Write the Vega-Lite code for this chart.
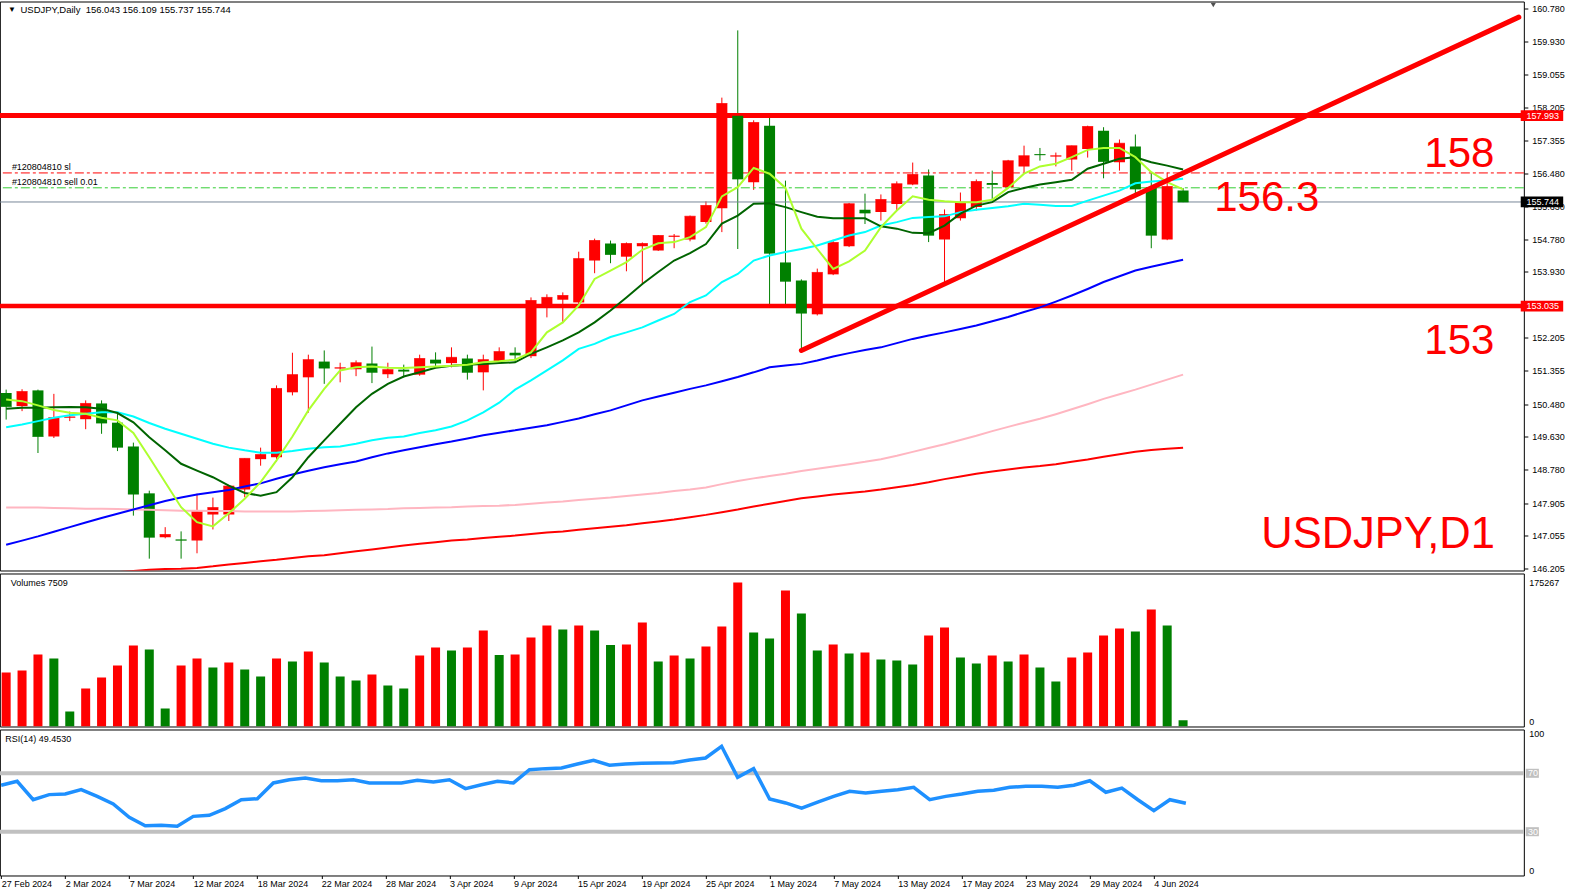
{
"$schema": "https://vega.github.io/schema/vega-lite/v6.json",
"background": "white",
"padding": {"left": -3.17, "top": 0.5, "right": 2, "bottom": 2},
"bounds": "flush",
"spacing": 3,
"config": {
 "view": {"stroke": "#000000", "strokeWidth": 1},
 "font": "Liberation Sans",
 "axis": {"labelFont": "Liberation Sans", "labelFontSize": 9, "labelColor": "#000000", "tickColor": "#000000", "domain": false, "grid": false, "tickSize": 4, "labelPadding": 3, "labelOverlap": false, "labelFlush": false, "labelBound": false}
},
"data": {"values": [
{"i":0,"o":150.77,"h":150.86,"l":150.08,"c":150.42,"v":65723,"r":61.8,"m1":150.60,"m2":150.36,"m3":149.88,"m4":146.82,"m5":147.79,"m6":146.00},
{"i":1,"o":150.43,"h":150.87,"l":150.30,"c":150.81,"v":68158,"r":64.5,"m1":150.56,"m2":150.39,"m3":149.95,"m4":146.93,"m5":147.79,"m6":146.02},
{"i":2,"o":150.84,"h":150.86,"l":149.21,"c":149.64,"v":87631,"r":51.9,"m1":150.45,"m2":150.39,"m3":150.04,"m4":147.04,"m5":147.79,"m6":146.03},
{"i":3,"o":149.64,"h":150.75,"l":149.60,"c":150.13,"v":82763,"r":55.4,"m1":150.33,"m2":150.40,"m3":150.13,"m4":147.16,"m5":147.78,"m6":146.04},
{"i":4,"o":150.13,"h":150.29,"l":150.04,"c":150.15,"v":18257,"r":55.8,"m1":150.26,"m2":150.41,"m3":150.19,"m4":147.28,"m5":147.77,"m6":146.05},
{"i":5,"o":150.09,"h":150.58,"l":149.83,"c":150.50,"v":46250,"r":58.8,"m1":150.23,"m2":150.40,"m3":150.23,"m4":147.40,"m5":147.76,"m6":146.06},
{"i":6,"o":150.50,"h":150.58,"l":149.71,"c":149.99,"v":59638,"r":54.2,"m1":150.13,"m2":150.36,"m3":150.27,"m4":147.52,"m5":147.76,"m6":146.08},
{"i":7,"o":150.00,"h":150.23,"l":149.26,"c":149.36,"v":74243,"r":49.0,"m1":150.06,"m2":150.25,"m3":150.27,"m4":147.63,"m5":147.75,"m6":146.11},
{"i":8,"o":149.38,"h":149.48,"l":147.58,"c":148.14,"v":98585,"r":39.8,"m1":149.73,"m2":150.01,"m3":150.16,"m4":147.74,"m5":147.74,"m6":146.14},
{"i":9,"o":148.16,"h":148.23,"l":146.46,"c":147.02,"v":93717,"r":34.1,"m1":149.10,"m2":149.62,"m3":149.99,"m4":147.85,"m5":147.73,"m6":146.17},
{"i":10,"o":147.02,"h":147.28,"l":146.99,"c":147.09,"v":21908,"r":34.4,"m1":148.45,"m2":149.28,"m3":149.84,"m4":147.96,"m5":147.72,"m6":146.19},
{"i":11,"o":146.96,"h":147.17,"l":146.46,"c":146.94,"v":74243,"r":33.7,"m1":147.80,"m2":148.93,"m3":149.71,"m4":148.05,"m5":147.71,"m6":146.20},
{"i":12,"o":146.93,"h":148.15,"l":146.60,"c":147.69,"v":82763,"r":40.5,"m1":147.41,"m2":148.75,"m3":149.58,"m4":148.13,"m5":147.71,"m6":146.22},
{"i":13,"o":147.61,"h":148.05,"l":147.22,"c":147.79,"v":71809,"r":41.2,"m1":147.30,"m2":148.58,"m3":149.45,"m4":148.19,"m5":147.70,"m6":146.26},
{"i":14,"o":147.61,"h":148.38,"l":147.44,"c":148.35,"v":77894,"r":45.8,"m1":147.64,"m2":148.36,"m3":149.35,"m4":148.25,"m5":147.70,"m6":146.31},
{"i":15,"o":148.26,"h":149.07,"l":148.06,"c":149.07,"v":69375,"r":51.9,"m1":148.02,"m2":148.17,"m3":149.28,"m4":148.34,"m5":147.69,"m6":146.35},
{"i":16,"o":149.05,"h":149.35,"l":148.88,"c":149.17,"v":60855,"r":52.6,"m1":148.45,"m2":148.10,"m3":149.22,"m4":148.42,"m5":147.69,"m6":146.39},
{"i":17,"o":149.10,"h":150.97,"l":148.99,"c":150.89,"v":82763,"r":63.4,"m1":149.02,"m2":148.19,"m3":149.22,"m4":148.54,"m5":147.69,"m6":146.43},
{"i":18,"o":150.79,"h":151.82,"l":150.71,"c":151.25,"v":79112,"r":65.6,"m1":149.64,"m2":148.58,"m3":149.26,"m4":148.65,"m5":147.69,"m6":146.48},
{"i":19,"o":151.18,"h":151.77,"l":150.26,"c":151.64,"v":91283,"r":66.8,"m1":150.32,"m2":149.10,"m3":149.32,"m4":148.75,"m5":147.70,"m6":146.52},
{"i":20,"o":151.59,"h":151.88,"l":151.01,"c":151.42,"v":77894,"r":64.9,"m1":150.88,"m2":149.54,"m3":149.36,"m4":148.84,"m5":147.71,"m6":146.55},
{"i":21,"o":151.41,"h":151.56,"l":151.05,"c":151.43,"v":60855,"r":64.9,"m1":151.36,"m2":149.97,"m3":149.38,"m4":148.92,"m5":147.72,"m6":146.60},
{"i":22,"o":151.39,"h":151.62,"l":151.21,"c":151.56,"v":55987,"r":65.6,"m1":151.44,"m2":150.40,"m3":149.45,"m4":148.99,"m5":147.73,"m6":146.65},
{"i":23,"o":151.54,"h":151.98,"l":151.03,"c":151.31,"v":63289,"r":63.4,"m1":151.46,"m2":150.75,"m3":149.54,"m4":149.10,"m5":147.74,"m6":146.70},
{"i":24,"o":151.26,"h":151.56,"l":151.16,"c":151.38,"v":49901,"r":63.4,"m1":151.43,"m2":151.01,"m3":149.61,"m4":149.20,"m5":147.75,"m6":146.75},
{"i":25,"o":151.38,"h":151.51,"l":151.18,"c":151.34,"v":46250,"r":63.4,"m1":151.42,"m2":151.20,"m3":149.64,"m4":149.28,"m5":147.77,"m6":146.80},
{"i":26,"o":151.25,"h":151.77,"l":151.22,"c":151.67,"v":86414,"r":65.2,"m1":151.44,"m2":151.31,"m3":149.73,"m4":149.36,"m5":147.78,"m6":146.85},
{"i":27,"o":151.64,"h":151.83,"l":151.46,"c":151.55,"v":96151,"r":64.0,"m1":151.46,"m2":151.43,"m3":149.80,"m4":149.44,"m5":147.79,"m6":146.89},
{"i":28,"o":151.55,"h":151.96,"l":151.44,"c":151.70,"v":92500,"r":65.6,"m1":151.48,"m2":151.48,"m3":149.90,"m4":149.51,"m5":147.80,"m6":146.93},
{"i":29,"o":151.67,"h":151.77,"l":151.12,"c":151.31,"v":96151,"r":59.5,"m1":151.51,"m2":151.51,"m3":150.06,"m4":149.59,"m5":147.82,"m6":146.96},
{"i":30,"o":151.31,"h":151.77,"l":150.84,"c":151.64,"v":116842,"r":62.2,"m1":151.57,"m2":151.53,"m3":150.27,"m4":149.67,"m5":147.83,"m6":147.00},
{"i":31,"o":151.60,"h":151.96,"l":151.60,"c":151.85,"v":87023,"r":64.5,"m1":151.60,"m2":151.55,"m3":150.52,"m4":149.74,"m5":147.84,"m6":147.03},
{"i":32,"o":151.82,"h":151.96,"l":151.60,"c":151.76,"v":87631,"r":63.4,"m1":151.64,"m2":151.57,"m3":150.86,"m4":149.80,"m5":147.86,"m6":147.06},
{"i":33,"o":151.73,"h":153.26,"l":151.68,"c":153.18,"v":108322,"r":72.5,"m1":151.83,"m2":151.79,"m3":151.10,"m4":149.87,"m5":147.89,"m6":147.10},
{"i":34,"o":153.08,"h":153.34,"l":152.74,"c":153.26,"v":122927,"r":73.2,"m1":152.35,"m2":151.96,"m3":151.36,"m4":149.93,"m5":147.92,"m6":147.14},
{"i":35,"o":153.20,"h":153.39,"l":152.59,"c":153.31,"v":118059,"r":73.6,"m1":152.61,"m2":152.14,"m3":151.62,"m4":150.02,"m5":147.95,"m6":147.17},
{"i":36,"o":153.13,"h":154.45,"l":153.09,"c":154.27,"v":122927,"r":76.4,"m1":153.05,"m2":152.35,"m3":151.92,"m4":150.11,"m5":147.99,"m6":147.21},
{"i":37,"o":154.22,"h":154.79,"l":153.89,"c":154.74,"v":116842,"r":78.9,"m1":153.74,"m2":152.61,"m3":152.05,"m4":150.22,"m5":148.02,"m6":147.25},
{"i":38,"o":154.66,"h":154.74,"l":154.15,"c":154.38,"v":99194,"r":75.5,"m1":153.96,"m2":152.92,"m3":152.23,"m4":150.32,"m5":148.05,"m6":147.29},
{"i":39,"o":154.32,"h":154.69,"l":153.94,"c":154.66,"v":99802,"r":76.4,"m1":154.18,"m2":153.26,"m3":152.35,"m4":150.45,"m5":148.09,"m6":147.33},
{"i":40,"o":154.59,"h":154.69,"l":153.60,"c":154.66,"v":126578,"r":76.8,"m1":154.50,"m2":153.61,"m3":152.48,"m4":150.58,"m5":148.13,"m6":147.38},
{"i":41,"o":154.48,"h":154.88,"l":154.47,"c":154.87,"v":79112,"r":77.1,"m1":154.67,"m2":153.92,"m3":152.66,"m4":150.68,"m5":148.17,"m6":147.43},
{"i":42,"o":154.84,"h":154.91,"l":154.54,"c":154.86,"v":86414,"r":77.3,"m1":154.70,"m2":154.22,"m3":152.83,"m4":150.78,"m5":148.22,"m6":147.48},
{"i":43,"o":154.77,"h":155.39,"l":154.72,"c":155.37,"v":82763,"r":79.1,"m1":154.83,"m2":154.41,"m3":153.14,"m4":150.88,"m5":148.26,"m6":147.54},
{"i":44,"o":155.22,"h":155.76,"l":155.18,"c":155.65,"v":97368,"r":80.5,"m1":155.09,"m2":154.65,"m3":153.31,"m4":150.97,"m5":148.31,"m6":147.60},
{"i":45,"o":155.58,"h":158.46,"l":154.96,"c":158.31,"v":121710,"r":88.5,"m1":155.89,"m2":155.18,"m3":153.66,"m4":151.08,"m5":148.40,"m6":147.67},
{"i":46,"o":157.99,"h":160.21,"l":154.52,"c":156.34,"v":175267,"r":67.2,"m1":156.13,"m2":155.39,"m3":153.87,"m4":151.19,"m5":148.48,"m6":147.74},
{"i":47,"o":156.26,"h":157.87,"l":156.06,"c":157.81,"v":114407,"r":73.2,"m1":156.63,"m2":155.70,"m3":154.22,"m4":151.31,"m5":148.55,"m6":147.82},
{"i":48,"o":157.73,"h":157.99,"l":153.00,"c":154.41,"v":107105,"r":52.4,"m1":156.48,"m2":155.71,"m3":154.35,"m4":151.44,"m5":148.61,"m6":147.89},
{"i":49,"o":154.17,"h":156.30,"l":153.06,"c":153.68,"v":165526,"r":49.7,"m1":156.11,"m2":155.61,"m3":154.44,"m4":151.49,"m5":148.67,"m6":147.96},
{"i":50,"o":153.70,"h":153.73,"l":151.88,"c":152.85,"v":137532,"r":46.2,"m1":155.05,"m2":155.48,"m3":154.52,"m4":151.53,"m5":148.74,"m6":148.03},
{"i":51,"o":152.82,"h":154.01,"l":152.79,"c":153.91,"v":92500,"r":50.3,"m1":154.52,"m2":155.36,"m3":154.61,"m4":151.62,"m5":148.80,"m6":148.08},
{"i":52,"o":153.86,"h":154.76,"l":153.84,"c":154.69,"v":99802,"r":54.2,"m1":154.00,"m2":155.32,"m3":154.74,"m4":151.72,"m5":148.86,"m6":148.13},
{"i":53,"o":154.59,"h":155.72,"l":154.57,"c":155.70,"v":88848,"r":57.7,"m1":154.20,"m2":155.32,"m3":154.87,"m4":151.81,"m5":148.92,"m6":148.17},
{"i":54,"o":155.54,"h":155.96,"l":155.17,"c":155.46,"v":90065,"r":56.5,"m1":154.48,"m2":155.32,"m3":154.96,"m4":151.89,"m5":148.98,"m6":148.21},
{"i":55,"o":155.48,"h":155.94,"l":155.26,"c":155.81,"v":81546,"r":57.7,"m1":155.09,"m2":155.11,"m3":155.13,"m4":151.96,"m5":149.05,"m6":148.26},
{"i":56,"o":155.69,"h":156.28,"l":155.52,"c":156.22,"v":80329,"r":58.8,"m1":155.52,"m2":155.05,"m3":155.22,"m4":152.07,"m5":149.14,"m6":148.32},
{"i":57,"o":156.20,"h":156.77,"l":156.18,"c":156.46,"v":75460,"r":60.4,"m1":155.89,"m2":154.94,"m3":155.33,"m4":152.18,"m5":149.24,"m6":148.38},
{"i":58,"o":156.43,"h":156.59,"l":154.70,"c":154.88,"v":110756,"r":51.9,"m1":155.80,"m2":154.93,"m3":155.35,"m4":152.27,"m5":149.34,"m6":148.45},
{"i":59,"o":154.77,"h":155.55,"l":153.66,"c":155.42,"v":120493,"r":54.2,"m1":155.76,"m2":155.13,"m3":155.37,"m4":152.35,"m5":149.44,"m6":148.53},
{"i":60,"o":155.32,"h":155.99,"l":155.26,"c":155.73,"v":83980,"r":55.8,"m1":155.74,"m2":155.44,"m3":155.48,"m4":152.44,"m5":149.55,"m6":148.60},
{"i":61,"o":155.61,"h":156.33,"l":155.52,"c":156.28,"v":76677,"r":57.7,"m1":155.74,"m2":155.65,"m3":155.54,"m4":152.53,"m5":149.66,"m6":148.67},
{"i":62,"o":156.24,"h":156.56,"l":155.78,"c":156.20,"v":86414,"r":58.4,"m1":155.80,"m2":155.74,"m3":155.59,"m4":152.64,"m5":149.78,"m6":148.73},
{"i":63,"o":156.13,"h":156.84,"l":156.10,"c":156.82,"v":79112,"r":60.4,"m1":156.11,"m2":156.00,"m3":155.63,"m4":152.75,"m5":149.89,"m6":148.78},
{"i":64,"o":156.67,"h":157.21,"l":156.52,"c":156.95,"v":87631,"r":61.1,"m1":156.48,"m2":156.11,"m3":155.70,"m4":152.88,"m5":150.00,"m6":148.83},
{"i":65,"o":156.99,"h":157.15,"l":156.82,"c":156.97,"v":71809,"r":61.1,"m1":156.67,"m2":156.20,"m3":155.67,"m4":153.00,"m5":150.10,"m6":148.87},
{"i":66,"o":156.93,"h":157.03,"l":156.67,"c":156.95,"v":54770,"r":60.4,"m1":156.74,"m2":156.26,"m3":155.64,"m4":153.15,"m5":150.22,"m6":148.92},
{"i":67,"o":156.85,"h":157.21,"l":156.56,"c":157.21,"v":83980,"r":61.8,"m1":156.91,"m2":156.32,"m3":155.64,"m4":153.31,"m5":150.35,"m6":148.98},
{"i":68,"o":157.12,"h":157.73,"l":156.90,"c":157.71,"v":90065,"r":64.9,"m1":157.10,"m2":156.61,"m3":155.78,"m4":153.48,"m5":150.48,"m6":149.04},
{"i":69,"o":157.60,"h":157.69,"l":156.36,"c":156.80,"v":110756,"r":57.0,"m1":157.15,"m2":156.74,"m3":155.91,"m4":153.66,"m5":150.62,"m6":149.11},
{"i":70,"o":156.78,"h":157.37,"l":156.56,"c":157.27,"v":119276,"r":59.9,"m1":157.15,"m2":156.87,"m3":156.04,"m4":153.81,"m5":150.74,"m6":149.18},
{"i":71,"o":157.19,"h":157.50,"l":155.96,"c":156.08,"v":115625,"r":51.9,"m1":156.91,"m2":156.91,"m3":156.23,"m4":153.96,"m5":150.86,"m6":149.24},
{"i":72,"o":156.13,"h":156.51,"l":154.54,"c":154.88,"v":142401,"r":44.4,"m1":156.52,"m2":156.78,"m3":156.28,"m4":154.06,"m5":150.99,"m6":149.29},
{"i":73,"o":154.77,"h":156.51,"l":154.75,"c":156.15,"v":122927,"r":51.9,"m1":156.26,"m2":156.69,"m3":156.30,"m4":154.15,"m5":151.12,"m6":149.32},
{"i":74,"o":156.043,"h":156.109,"l":155.737,"c":155.744,"v":7509,"r":49.453,"m1":156.07,"m2":156.59,"m3":156.35,"m4":154.24,"m5":151.25,"m6":149.35}
]},
"vconcat": [
{
 "width": 1524, "height": 569,
 "layer": [
  {"mark": {"type": "rule", "strokeWidth": 1, "clip": true},
   "encoding": {
    "x": {"field": "i", "type": "quantitative", "scale": {"domain": [-0.083, 95.11], "nice": false, "zero": false}, "axis": null},
    "y": {"field": "h", "type": "quantitative", "scale": {"domain": [146.152, 160.962], "nice": false, "zero": false},
          "axis": {"orient": "right", "title": null, "format": ".3f", "labelOverlap": false, "labelBound": false, "labelPadding": 4, "tickCount": 100,
                   "values": [146.205, 147.055, 147.905, 148.78, 149.63, 150.48, 151.355, 152.205, 153.93, 154.78, 155.63, 156.48, 157.355, 158.205, 159.055, 159.93, 160.78]}},
    "y2": {"field": "l"},
    "color": {"condition": {"test": "datum.c >= datum.o", "value": "#FF0000"}, "value": "#008000"}}},
  {"data": {"values": [{}]}, "mark": {"type": "rule", "strokeWidth": 5, "color": "#FF0000"},
   "encoding": {"y": {"datum": 157.993, "type": "quantitative"}}},
  {"data": {"values": [{}]}, "mark": {"type": "rule", "strokeWidth": 4.5, "color": "#FF0000"},
   "encoding": {"y": {"datum": 153.035, "type": "quantitative"}}},
  {"data": {"values": [{}]}, "mark": {"type": "rule", "strokeWidth": 1, "color": "#FF0000", "strokeDash": [9, 3, 3, 3]},
   "encoding": {"y": {"datum": 156.50, "type": "quantitative"}}},
  {"data": {"values": [{}]}, "mark": {"type": "rule", "strokeWidth": 1, "color": "#32CD32", "strokeDash": [9, 3, 3, 3]},
   "encoding": {"y": {"datum": 156.113, "type": "quantitative"}}},
  {"data": {"values": [{}]}, "mark": {"type": "rule", "strokeWidth": 1, "color": "#778899"},
   "encoding": {"y": {"datum": 155.744, "type": "quantitative"}}},
  {"mark": {"type": "bar", "size": 11, "clip": true},
   "encoding": {
    "x": {"field": "i", "type": "quantitative", "axis": null},
    "y": {"field": "o", "type": "quantitative"},
    "y2": {"field": "c"},
    "color": {"condition": {"test": "datum.c >= datum.o", "value": "#FF0000"}, "value": "#008000"}}},
  {"mark": {"type": "tick", "orient": "horizontal", "size": 11, "thickness": 1, "clip": true},
   "encoding": {
    "x": {"field": "i", "type": "quantitative", "axis": null},
    "y": {"field": "c", "type": "quantitative"},
    "color": {"condition": {"test": "datum.c >= datum.o", "value": "#FF0000"}, "value": "#008000"}}},
  {"transform": [{"fold": ["m6", "m5", "m4", "m3", "m2", "m1"], "as": ["ma", "val"]}],
   "mark": {"type": "line", "strokeWidth": 2, "clip": true},
   "encoding": {
    "x": {"field": "i", "type": "quantitative", "axis": null},
    "y": {"field": "val", "type": "quantitative"},
    "color": {"field": "ma", "type": "nominal", "legend": null,
      "scale": {"domain": ["m6", "m5", "m4", "m3", "m2", "m1"], "range": ["#FF0000", "#FFB6C1", "#0000FF", "#00FFFF", "#006400", "#ADFF2F"]}}}},
  {"data": {"values": [{}]}, "mark": {"type": "rule", "strokeWidth": 5, "color": "#FF0000", "clip": true, "strokeCap": "round"},
   "encoding": {
    "x": {"datum": 50, "type": "quantitative", "axis": null}, "x2": {"datum": 95.11},
    "y": {"datum": 151.88, "type": "quantitative"}, "y2": {"datum": 160.555}}},
  {"data": {"values": [{}]}, "mark": {"type": "text", "text": "158", "fontSize": 42, "color": "#FF0000", "align": "center", "baseline": "middle", "font": "Liberation Sans"},
   "encoding": {"x": {"datum": 91.37, "type": "quantitative", "axis": null}, "y": {"datum": 156.985, "type": "quantitative"}}},
  {"data": {"values": [{}]}, "mark": {"type": "text", "text": "156.3", "fontSize": 42, "color": "#FF0000", "align": "center", "baseline": "middle", "font": "Liberation Sans"},
   "encoding": {"x": {"datum": 79.26, "type": "quantitative", "axis": null}, "y": {"datum": 155.85, "type": "quantitative"}}},
  {"data": {"values": [{}]}, "mark": {"type": "text", "text": "153", "fontSize": 42, "color": "#FF0000", "align": "center", "baseline": "middle", "font": "Liberation Sans"},
   "encoding": {"x": {"datum": 91.37, "type": "quantitative", "axis": null}, "y": {"datum": 152.125, "type": "quantitative"}}},
  {"data": {"values": [{}]}, "mark": {"type": "text", "text": "USDJPY,D1", "fontSize": 43.5, "color": "#FF0000", "align": "center", "baseline": "middle", "font": "Liberation Sans"},
   "encoding": {"x": {"datum": 86.26, "type": "quantitative", "axis": null}, "y": {"datum": 147.07, "type": "quantitative"}}},
  {"data": {"values": [{}]}, "mark": {"type": "text", "text": "▼", "fontSize": 8, "color": "#000000", "align": "center", "baseline": "middle"},
   "encoding": {"x": {"datum": 0.36, "type": "quantitative", "axis": null}, "y": {"datum": 160.75, "type": "quantitative"}}},
  {"data": {"values": [{}]}, "mark": {"type": "text", "text": "USDJPY,Daily\u00a0\u00a0156.043 156.109 155.737 155.744", "fontSize": 9.5, "color": "#000000", "align": "left", "baseline": "middle", "font": "Liberation Sans"},
   "encoding": {"x": {"datum": 0.90, "type": "quantitative", "axis": null}, "y": {"datum": 160.746, "type": "quantitative"}}},
  {"data": {"values": [{}]}, "mark": {"type": "text", "text": "#120804810 sl", "fontSize": 9, "color": "#000000", "align": "left", "baseline": "middle", "font": "Liberation Sans"},
   "encoding": {"x": {"datum": 0.36, "type": "quantitative", "axis": null}, "y": {"datum": 156.649, "type": "quantitative"}}},
  {"data": {"values": [{}]}, "mark": {"type": "text", "text": "#120804810 sell 0.01", "fontSize": 9, "color": "#000000", "align": "left", "baseline": "middle", "font": "Liberation Sans"},
   "encoding": {"x": {"datum": 0.36, "type": "quantitative", "axis": null}, "y": {"datum": 156.259, "type": "quantitative"}}},
  {"data": {"values": [{}]}, "mark": {"type": "point", "shape": "triangle-down", "size": 28, "filled": true, "color": "#505050", "opacity": 1},
   "encoding": {"x": {"datum": 75.9, "type": "quantitative", "axis": null}, "y": {"datum": 160.87, "type": "quantitative"}}},
  {"data": {"values": [{"p": 157.993, "k": "r"}, {"p": 153.035, "k": "r"}, {"p": 155.744, "k": "b"}]},
   "transform": [{"calculate": "datum.p + 0.14", "as": "p1"}, {"calculate": "datum.p - 0.14", "as": "p2"}],
   "mark": {"type": "rect"},
   "encoding": {"x": {"datum": 95.23, "type": "quantitative", "axis": null}, "x2": {"datum": 97.9},
    "y": {"field": "p1", "type": "quantitative"}, "y2": {"field": "p2"},
    "color": {"condition": {"test": "datum.k == 'b'", "value": "#000000"}, "value": "#FF0000"}}},
  {"data": {"values": [{"p": 157.993, "t": "157.993"}, {"p": 153.035, "t": "153.035"}, {"p": 155.744, "t": "155.744"}]},
   "mark": {"type": "text", "fontSize": 9, "color": "#FFFFFF", "align": "left", "baseline": "middle", "font": "Liberation Sans"},
   "encoding": {"x": {"datum": 95.59, "type": "quantitative", "axis": null}, "y": {"field": "p", "type": "quantitative"}, "text": {"field": "t"}}}
 ]
},
{
 "width": 1524, "height": 153,
 "transform": [{"window": [{"op": "lag", "field": "v", "as": "pv"}], "sort": [{"field": "i"}]}],
 "layer": [
  {"mark": {"type": "bar", "size": 9, "clip": true},
   "encoding": {
    "x": {"field": "i", "type": "quantitative", "scale": {"domain": [-0.083, 95.11], "nice": false, "zero": false}, "axis": null},
    "y": {"field": "v", "type": "quantitative", "scale": {"domain": [0, 186220], "nice": false},
          "axis": {"orient": "right", "title": null, "values": [0, 175267], "format": "d", "ticks": false, "labelPadding": 5, "labelOverlap": false, "labelBound": false,
                   "labelBaseline": {"condition": {"test": "datum.value == 0", "value": "bottom"}, "value": "middle"}}},
    "color": {"condition": {"test": "datum.pv == null || datum.v > datum.pv", "value": "#FF0000"}, "value": "#008000"}}},
  {"data": {"values": [{}]}, "mark": {"type": "text", "text": "Volumes 7509", "fontSize": 9, "color": "#000000", "align": "left", "baseline": "middle", "font": "Liberation Sans"},
   "encoding": {"x": {"datum": 0.29, "type": "quantitative", "axis": null}, "y": {"datum": 175000, "type": "quantitative"}}}
 ]
},
{
 "width": 1524, "height": 146,
 "layer": [
  {"data": {"values": [{"lv": 70}, {"lv": 30}]}, "mark": {"type": "rule", "strokeWidth": 4, "color": "#C0C0C0"},
   "encoding": {"y": {"field": "lv", "type": "quantitative"}}},
  {"mark": {"type": "line", "strokeWidth": 3.5, "color": "#1E90FF", "clip": true},
   "encoding": {
    "x": {"field": "i", "type": "quantitative", "scale": {"domain": [-0.083, 95.11], "nice": false, "zero": false},
          "axis": {"orient": "bottom", "title": null, "values": [0, 4, 8, 12, 16, 20, 24, 28, 32, 36, 40, 44, 48, 52, 56, 60, 64, 68, 72], "tickCount": 100,
                   "labelExpr": "['27 Feb 2024','2 Mar 2024','7 Mar 2024','12 Mar 2024','18 Mar 2024','22 Mar 2024','28 Mar 2024','3 Apr 2024','9 Apr 2024','15 Apr 2024','19 Apr 2024','25 Apr 2024','1 May 2024','7 May 2024','13 May 2024','17 May 2024','23 May 2024','29 May 2024','4 Jun 2024'][datum.value / 4]",
                   "labelAlign": "left", "labelBaseline": "top", "tickSize": 3, "labelPadding": 1, "labelOverlap": false, "labelBound": false}},
    "y": {"field": "r", "type": "quantitative", "scale": {"domain": [0, 100], "nice": false},
          "axis": {"orient": "right", "title": null, "values": [0, 100], "ticks": false, "labelPadding": 5, "labelOverlap": false, "labelBound": false,
                   "labelBaseline": {"condition": {"test": "datum.value == 0", "value": "bottom"}, "value": "top"}}}}},
  {"data": {"values": [{"lv": 70}, {"lv": 30}]},
   "transform": [{"calculate": "datum.lv + 3.1", "as": "l1"}, {"calculate": "datum.lv - 3.1", "as": "l2"}],
   "mark": {"type": "rect", "color": "#C0C0C0"},
   "encoding": {"x": {"datum": 95.23, "type": "quantitative"}, "x2": {"datum": 96.05},
    "y": {"field": "l1", "type": "quantitative"}, "y2": {"field": "l2"}}},
  {"data": {"values": [{"lv": 70, "t": "70"}, {"lv": 30, "t": "30"}]},
   "mark": {"type": "text", "fontSize": 9, "color": "#FFFFFF", "align": "left", "baseline": "middle", "font": "Liberation Sans"},
   "encoding": {"x": {"datum": 95.37, "type": "quantitative"}, "y": {"field": "lv", "type": "quantitative"}, "text": {"field": "t"}}},
  {"data": {"values": [{}]}, "mark": {"type": "text", "text": "RSI(14) 49.4530", "fontSize": 9, "color": "#000000", "align": "left", "baseline": "middle", "font": "Liberation Sans"},
   "encoding": {"x": {"datum": 0.26, "type": "quantitative"}, "y": {"datum": 93.2, "type": "quantitative"}}}
 ]
}
]
}
